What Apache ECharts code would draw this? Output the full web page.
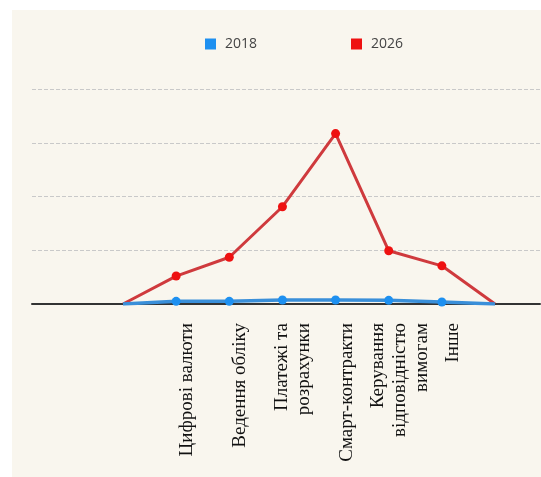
<!DOCTYPE html>
<html>
<head>
<meta charset="utf-8">
<script src="https://cdn.jsdelivr.net/npm/echarts@6/dist/echarts.min.js"></script>
<style>
html,body{margin:0;padding:0;background:#fff;}
#bg{position:absolute;left:12px;top:10px;width:529px;height:467px;background:#f9f6ee;}
#chart{position:absolute;left:0;top:0;width:541px;height:477px;}
</style>
</head>
<body>
<div id="bg"></div>
<div id="chart"></div>
<script>
const categories = ["", "Цифрові валюти", "Ведення обліку", "Платежі та\nрозрахунки", "Смарт-контракти", "Керування\nвідповідністю\nвимогам", "Інше", ""];
const values2018 = [0, 0.5, 0.5, 0.74, 0.74, 0.68, 0.37, 0];
const values2026 = [0, 5.2, 8.7, 18.1, 31.7, 9.9, 7.1, 0];
const seriesNames = ["2018", "2026"];

function withEnds(arr) {
  return arr.map((v, i) => (i === 0 || i === arr.length - 1) ? { value: v, symbol: 'none' } : v);
}

const chart = echarts.init(document.getElementById('chart'));
chart.setOption({
  backgroundColor: 'transparent',
  animation: false,
  legend: {
    left: 205, top: 37, padding: 0,
    icon: 'rect', itemWidth: 11, itemHeight: 11, itemGap: 94,
    data: seriesNames,
    textStyle: { fontFamily: 'Open Sans', fontSize: 14, color: '#444', padding: [0, 0, 0, 4] }
  },
  grid: [
    { left: 32, right: 1, top: 89, bottom: 173 },
    { left: 123, right: 46, top: 89, bottom: 173 }
  ],
  xAxis: [
    { gridIndex: 0, type: 'category', data: [''], axisLine: { lineStyle: { color: '#333', width: 2 } }, axisTick: { show: false }, axisLabel: { show: false } },
    { gridIndex: 1, type: 'category', data: categories, boundaryGap: false,
      axisLine: { show: false }, axisTick: { show: false },
      axisLabel: { interval: 0, rotate: 90, margin: 19, fontFamily: 'Liberation Serif', fontSize: 19, color: '#111', lineHeight: 22,
        formatter: function (v) { return v ? '\n' + v : v; } } }
  ],
  yAxis: [
    { gridIndex: 0, type: 'value', min: 0, max: 40, interval: 10, axisLine: { show: false }, axisTick: { show: false }, axisLabel: { show: false },
      splitLine: { lineStyle: { type: 'dashed', color: '#c9c9c9', width: 1 } } },
    { gridIndex: 1, type: 'value', min: 0, max: 40, interval: 10, axisLine: { show: false }, axisTick: { show: false }, axisLabel: { show: false }, splitLine: { show: false } }
  ],
  series: [
    { name: seriesNames[0], type: 'line', xAxisIndex: 1, yAxisIndex: 1, z: 4,
      data: withEnds(values2018), symbol: 'circle', symbolSize: 9,
      lineStyle: { color: '#3a8fd9', width: 3.5 }, itemStyle: { color: '#1e90f0' } },
    { name: seriesNames[1], type: 'line', xAxisIndex: 1, yAxisIndex: 1, z: 3,
      data: withEnds(values2026), symbol: 'circle', symbolSize: 9,
      lineStyle: { color: '#cf3a3d', width: 3 }, itemStyle: { color: '#ee1111' } }
  ]
});
</script>
</body>
</html>
